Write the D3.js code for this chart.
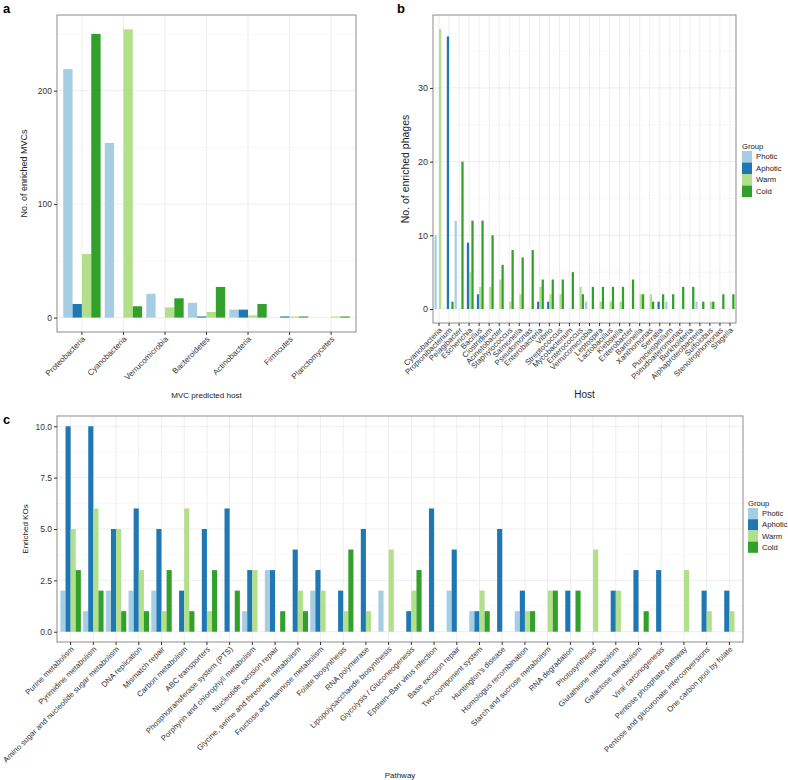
<!DOCTYPE html>
<html>
<head>
<meta charset="utf-8">
<script src="https://cdn.jsdelivr.net/npm/d3@7"></script>
<style>
  body { margin: 0; background: #fff; }
  svg { display: block; font-family: "Liberation Sans", Arial, sans-serif; }
</style>
</head>
<body>
<script>
// groups shared by all three panels
const groups = ['Photic', 'Aphotic', 'Warm', 'Cold'];
const groupColors = ['#a6cee3', '#1f78b4', '#b2df8a', '#33a02c'];

// panel a
const hostsA = ['Proteobacteria', 'Cyanobacteria', 'Verrucomicrobia', 'Bacteroidetes',
    'Actinobacteria', 'Firmicutes', 'Planctomycetes'];
const aPhotic = [219, 154, 21, 13, 7, 0, 0];
const aAphotic = [12, 0, 0, 1, 7, 1, 0];
const aWarm = [56, 254, 9, 5, 2, 1, 1];
const aCold = [250, 10, 17, 27, 12, 1, 1];
const aTicks = [0, 100, 200];

// panel b
const hostsB = ['Cyanobacteria', 'Propionibacterium', 'Pelagibacter', 'Escherichia', 'Bacillus',
    'Clostridium', 'Acinetobacter', 'Staphylococcus', 'Salmonella', 'Pseudomonas',
    'Enterobacteria', 'Vibrio', 'Streptococcus', 'Mycobacterium', 'Enterococcus',
    'Verrucomicrobia', 'Leptospira', 'Lactobacillus', 'Klebsiella', 'Enterobacter',
    'Bartonella', 'Xanthomonas', 'Serratia', 'Puniceispirillum', 'Pseudoalteromonas',
    'Burkholderia', 'Alphaproteobacteria', 'Sulfolobus', 'Stenotrophomonas', 'Shigella'];
const bPhotic = [10, 0, 12, 0, 0, 0, 0, 0, 0, 0, 0, 0, 0, 0, 0, 1, 0, 0, 0, 0, 0, 0, 0, 1, 0, 0, 1, 0, 0, 0];
const bAphotic = [0, 37, 0, 9, 2, 0, 0, 0, 0, 0, 1, 1, 0, 0, 0, 0, 0, 0, 0, 0, 0, 0, 1, 0, 0, 0, 0, 0, 0, 0];
const bWarm = [38, 0, 0, 5, 3, 3, 4, 1, 2, 0, 3, 2, 2, 0, 3, 0, 1, 1, 1, 0, 2, 2, 0, 0, 0, 0, 0, 1, 0, 0];
const bCold = [0, 1, 20, 12, 12, 10, 6, 8, 7, 8, 4, 4, 4, 5, 2, 3, 3, 3, 3, 4, 2, 1, 2, 2, 3, 3, 1, 1, 2, 2];
const bTicks = [0, 10, 20, 30];

// panel c
const pathways = ['Purine metabolism', 'Pyrimidine metabolism', 'Amino sugar and nucleotide sugar metabolism',
    'DNA replication', 'Mismatch repair', 'Carbon metabolism', 'ABC transporters',
    'Phosphotransferase system (PTS)', 'Porphyrin and chlorophyll metabolism', 'Nucleotide excision repair',
    'Glycine, serine and threonine metabolism', 'Fructose and mannose metabolism', 'Folate biosynthesis',
    'RNA polymerase', 'Lipopolysaccharide biosynthesis', 'Glycolysis / Gluconeogenesis',
    'Epstein\u2013Barr virus infection', 'Base excision repair', 'Two-component system',
    'Huntington\u2019s disease', 'Homologus recombination', 'Starch and sucrose metabolism',
    'RNA degradation', 'Photosynthesis', 'Glutathione metabolism', 'Galactose metabolism',
    'Viral carcinogenesis', 'Pentose phosphate pathway', 'Pentose and glucuronate interconversions',
    'One carbon pool by folate'];
const cPhotic = [2, 1, 2, 2, 2, 0, 0, 0, 1, 3, 0, 2, 0, 0, 2, 0, 0, 2, 1, 0, 1, 0, 0, 0, 0, 0, 0, 0, 0, 0];
const cAphotic = [10, 10, 5, 6, 5, 2, 5, 6, 3, 3, 4, 3, 2, 5, 0, 1, 6, 4, 1, 5, 2, 0, 2, 0, 2, 3, 3, 0, 2, 2];
const cWarm = [5, 6, 5, 3, 1, 6, 1, 0, 3, 0, 2, 2, 1, 1, 4, 2, 0, 0, 2, 0, 1, 2, 0, 4, 2, 0, 0, 3, 1, 1];
const cCold = [3, 2, 1, 1, 3, 1, 3, 2, 0, 1, 1, 0, 4, 0, 0, 3, 0, 0, 1, 0, 1, 2, 2, 0, 0, 1, 0, 0, 0, 0];
const cTicks = [0, 2.5, 5, 7.5, 10];

var svg = d3.select('body').append('svg')
    .attr('width', 788)
    .attr('height', 780);

function drawPanel(o) {
    var series = o.series;
    var maxV = d3.max(series, s => d3.max(s));
    var y = d3.scaleLinear()
        .domain([-0.05 * maxV, 1.05 * maxV])
        .range([o.bottom, o.top]);
    var x = d3.scaleBand()
        .domain(o.cats)
        .range([o.left, o.right])
        .paddingInner(0.1)
        .paddingOuter(0.15);
    var xg = d3.scaleBand().domain(groups).range([0, x.bandwidth()]);

    var g = svg.append('g');

    // minor + major grid
    var step = o.ticks[1] - o.ticks[0];
    var minor = [];
    for (var v = o.ticks[0] - step / 2; v <= y.domain()[1]; v += step) {
        if (v >= y.domain()[0]) minor.push(v);
    }
    g.selectAll('.minor').data(minor).enter().append('line')
        .attr('x1', o.left).attr('x2', o.right)
        .attr('y1', d => y(d)).attr('y2', d => y(d))
        .attr('stroke', '#f3f3f3').attr('stroke-width', 0.6);
    g.selectAll('.major').data(o.ticks).enter().append('line')
        .attr('x1', o.left).attr('x2', o.right)
        .attr('y1', d => y(d)).attr('y2', d => y(d))
        .attr('stroke', '#e6e6e6').attr('stroke-width', 0.7);
    g.selectAll('.vmajor').data(o.cats).enter().append('line')
        .attr('x1', d => x(d) + x.bandwidth() / 2).attr('x2', d => x(d) + x.bandwidth() / 2)
        .attr('y1', o.top).attr('y2', o.bottom)
        .attr('stroke', '#e6e6e6').attr('stroke-width', 0.7);

    // bars
    groups.forEach(function (grp, gi) {
        g.append('g').selectAll('rect')
            .data(o.cats.map((c, i) => ({ cat: c, v: series[gi][i] })).filter(d => d.v > 0))
            .enter().append('rect')
            .attr('x', d => x(d.cat) + xg(grp))
            .attr('width', xg.bandwidth())
            .attr('y', d => y(d.v))
            .attr('height', d => y(0) - y(d.v))
            .attr('fill', groupColors[gi]);
    });

    // border
    g.append('rect')
        .attr('x', o.left).attr('y', o.top)
        .attr('width', o.right - o.left).attr('height', o.bottom - o.top)
        .attr('fill', 'none').attr('stroke', '#8c8c8c').attr('stroke-width', 1);

    // y axis
    var ya = g.append('g')
        .attr('transform', 'translate(' + o.left + ',0)')
        .call(d3.axisLeft(y).tickValues(o.ticks).tickFormat(o.fmt).tickSize(3).tickPadding(2).tickSizeOuter(0));
    ya.select('.domain').remove();
    ya.selectAll('line').attr('stroke', '#333');
    ya.selectAll('text').attr('fill', '#333').style('font-size', o.yTickSize + 'px');

    // x axis
    var xa = g.append('g')
        .attr('transform', 'translate(0,' + o.bottom + ')')
        .call(d3.axisBottom(x).tickSize(3).tickSizeOuter(0));
    xa.select('.domain').remove();
    xa.selectAll('line').attr('stroke', '#333');
    xa.selectAll('text')
        .attr('fill', '#333')
        .style('font-size', o.xTickSize + 'px')
        .attr('text-anchor', 'end')
        .attr('dy', '0.3em')
        .attr('y', 0)
        .attr('transform', 'translate(2,6) rotate(-45)');

    // titles
    g.append('text')
        .attr('transform', 'translate(' + o.yTitleX + ',' + (o.top + o.bottom) / 2 + ') rotate(-90)')
        .attr('text-anchor', 'middle')
        .style('font-size', o.yTitleSize + 'px')
        .attr('fill', '#222')
        .text(o.yTitle);
    g.append('text')
        .attr('x', (o.left + o.right) / 2)
        .attr('y', o.xTitleY)
        .attr('text-anchor', 'middle')
        .style('font-size', o.xTitleSize + 'px')
        .attr('fill', '#222')
        .text(o.xTitle);

    // panel letter
    svg.append('text')
        .attr('x', o.letterX).attr('y', o.letterY)
        .style('font-size', '13px').style('font-weight', 'bold')
        .text(o.letter);

    // legend
    if (o.legend) {
        var lg = svg.append('g').attr('transform', 'translate(' + o.legend.x + ',' + o.legend.y + ')');
        lg.append('text').attr('x', 0).attr('y', 0)
            .style('font-size', '7.7px').attr('fill', '#222').text('Group');
        var h = o.legend.h;
        groups.forEach(function (grp, gi) {
            lg.append('rect')
                .attr('x', 0).attr('y', 2 + gi * h)
                .attr('width', 10).attr('height', h)
                .attr('fill', groupColors[gi]);
            lg.append('text')
                .attr('x', 14).attr('y', 2 + gi * h + h / 2)
                .attr('dy', '0.35em')
                .style('font-size', '7.7px').attr('fill', '#222')
                .text(grp);
        });
    }
}

drawPanel({
    cats: hostsA, series: [aPhotic, aAphotic, aWarm, aCold], ticks: aTicks, fmt: d3.format('d'),
    left: 57, right: 356, top: 15, bottom: 332,
    yTickSize: 8.5, xTickSize: 8,
    yTitle: 'No. of enriched MVCs', yTitleX: 27, yTitleSize: 9,
    xTitle: 'MVC predicted host', xTitleY: 398, xTitleSize: 8,
    letter: 'a', letterX: 3, letterY: 13
});

drawPanel({
    cats: hostsB, series: [bPhotic, bAphotic, bWarm, bCold], ticks: bTicks, fmt: d3.format('d'),
    left: 433, right: 736, top: 15, bottom: 323,
    yTickSize: 9, xTickSize: 7.8,
    yTitle: 'No. of enriched phages', yTitleX: 409, yTitleSize: 10.5,
    xTitle: 'Host', xTitleY: 398, xTitleSize: 10,
    letter: 'b', letterX: 397, letterY: 13,
    legend: { x: 742, y: 149, h: 11.5 }
});

drawPanel({
    cats: pathways, series: [cPhotic, cAphotic, cWarm, cCold], ticks: cTicks, fmt: d3.format('.1f'),
    left: 57, right: 743, top: 416, bottom: 642,
    yTickSize: 8.5, xTickSize: 7.8,
    yTitle: 'Enriched KOs', yTitleX: 28, yTitleSize: 8,
    xTitle: 'Pathway', xTitleY: 778, xTitleSize: 8,
    letter: 'c', letterX: 3, letterY: 424,
    legend: { x: 748, y: 506, h: 11.2 }
});
</script>
</body>
</html>
